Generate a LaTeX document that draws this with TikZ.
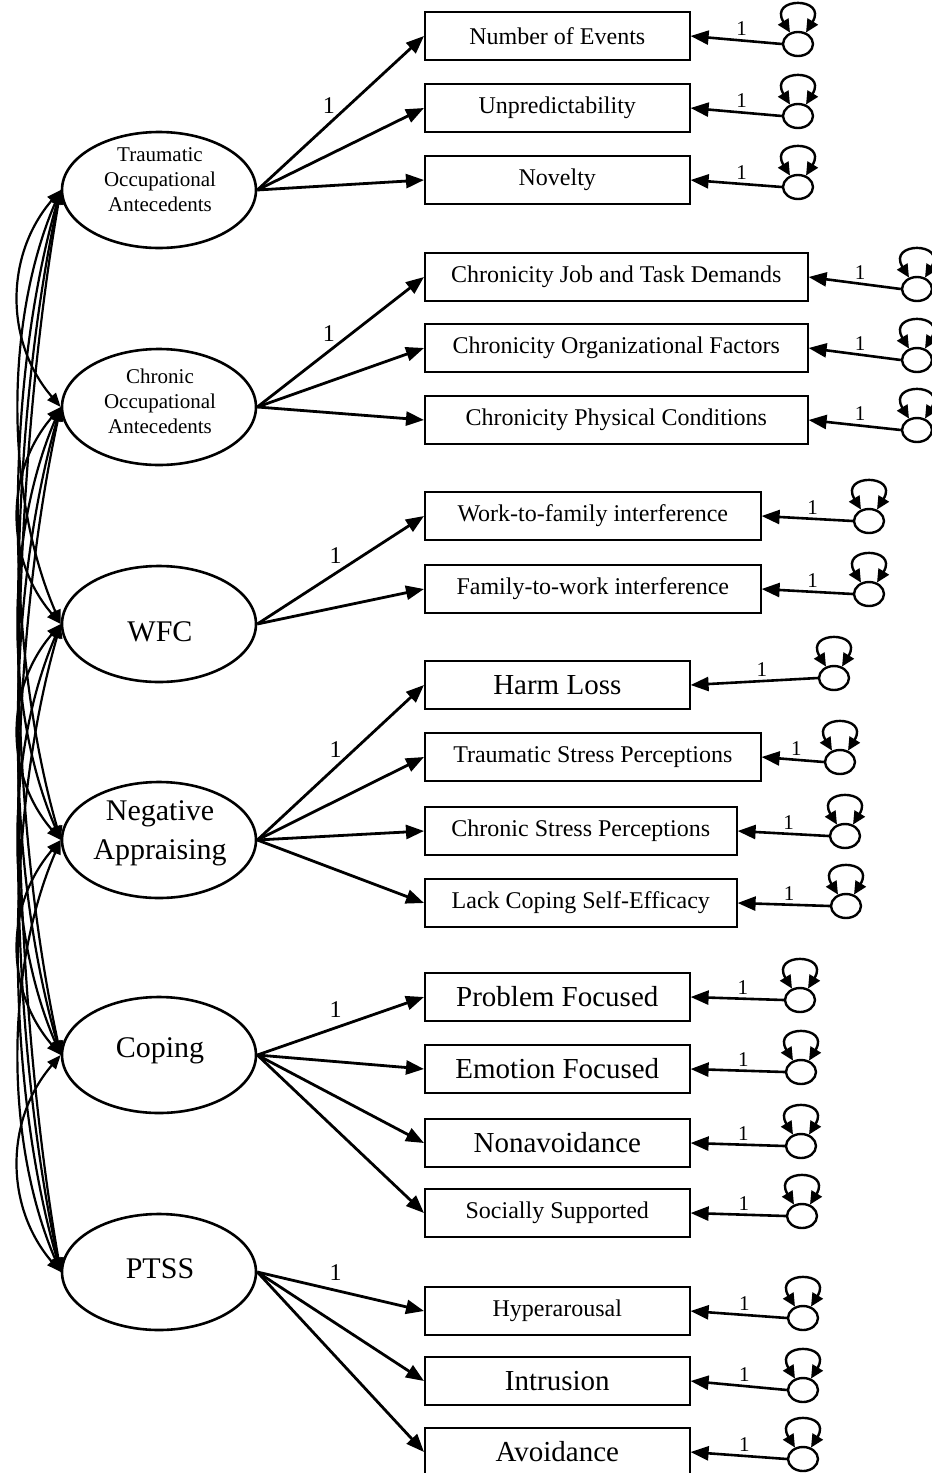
\documentclass[tikz,border=0pt]{standalone}
\usepackage{fontspec}
\setmainfont{Liberation Serif}
\usetikzlibrary{arrows.meta,shapes.geometric}
\begin{document}
\begin{tikzpicture}[x=1pt,y=-1pt,
  latent/.style={draw, line width=2.6pt, ellipse, minimum width=194pt, minimum height=116pt, inner sep=0pt},
  small/.style={align=center, font=\fontsize{21}{25}\selectfont},
  big/.style={align=center, font=\fontsize{30}{39}\selectfont},
  ind/.style={draw, line width=1.6pt, rectangle, anchor=west, minimum height=48pt, inner sep=0pt, font=\fontsize{24}{28}\selectfont},
  indbig/.style={ind, font=\fontsize{29}{34}\selectfont},
  err/.style={draw, line width=2.4pt, ellipse, minimum width=30pt, minimum height=24pt, inner sep=0pt},
  load/.style={line width=2.8pt, -{Triangle[length=18pt,width=14pt]}},
  eline/.style={line width=2.6pt, -{Triangle[length=18pt,width=14pt]}},
  selfloop/.style={line width=2.4pt, {Triangle[length=13pt,width=12pt]}-{Triangle[length=13pt,width=12pt]}},
  cov/.style={line width=2.2pt, {Triangle[length=14pt,width=11pt]}-{Triangle[length=14pt,width=11pt]}},
  one/.style={pos=0.47, yshift=18pt, font=\fontsize{24}{26}\selectfont},
  eone/.style={pos=0.44, above=0pt, font=\fontsize{21}{23}\selectfont}
]
\useasboundingbox (0,0) rectangle (932,1473);

% latent variables
\node[latent] (L1) at (159,190) {};
\node[latent] (L2) at (159,407) {};
\node[latent] (L3) at (159,624) {};
\node[latent] (L4) at (159,840) {};
\node[latent] (L5) at (159,1055) {};
\node[latent] (L6) at (159,1272) {};
\node[small] (t1) at (160,180) {Traumatic\\Occupational\\Antecedents};
\node[small] (t2) at (160,401) {Chronic\\Occupational\\Antecedents};
\node[big] (t3) at (160,632) {WFC};
\node[big] (t4) at (160,833) {Negative\\Appraising};
\node[big] (t5) at (160,1051) {Coping};
\node[big] (t6) at (160,1269) {PTSS};

% indicators
\node[ind, minimum width=265pt] (b11) at (424,36) {Number of Events};
\node[ind, minimum width=265pt] (b12) at (424,108) {Unpredictability};
\node[ind, minimum width=265pt] (b13) at (424,180) {Novelty};

\node[ind, minimum width=383pt] (b21) at (424,277) {Chronicity Job and Task Demands};
\node[ind, minimum width=383pt] (b22) at (424,348) {Chronicity Organizational Factors};
\node[ind, minimum width=383pt] (b23) at (424,420) {Chronicity Physical Conditions};

\node[ind, minimum width=336pt] (b31) at (424,516) {Work-to-family interference};
\node[ind, minimum width=336pt] (b32) at (424,589) {Family-to-work interference};

\node[indbig, minimum width=265pt] (b41) at (424,685) {Harm Loss};
\node[ind, minimum width=336pt] (b42) at (424,757) {Traumatic Stress Perceptions};
\node[ind, minimum width=312pt] (b43) at (424,831) {Chronic Stress Perceptions};
\node[ind, minimum width=312pt] (b44) at (424,903) {Lack Coping Self-Efficacy};

\node[indbig, minimum width=265pt] (b51) at (424,997) {Problem Focused};
\node[indbig, minimum width=265pt] (b52) at (424,1069) {Emotion Focused};
\node[indbig, minimum width=265pt] (b53) at (424,1143) {Nonavoidance};
\node[ind, minimum width=265pt] (b54) at (424,1213) {Socially Supported};

\node[ind, minimum width=265pt] (b61) at (424,1311) {Hyperarousal};
\node[indbig, minimum width=265pt] (b62) at (424,1381) {Intrusion};
\node[indbig, minimum width=265pt] (b63) at (424,1452) {Avoidance};

% error terms
\node[err] (e11) at (798,44) {};
\node[err] (e12) at (798,116) {};
\node[err] (e13) at (798,187) {};
\node[err] (e21) at (917,289) {};
\node[err] (e22) at (917,360) {};
\node[err] (e23) at (917,430) {};
\node[err] (e31) at (869,521) {};
\node[err] (e32) at (869,594) {};
\node[err] (e41) at (834,678) {};
\node[err] (e42) at (840,762) {};
\node[err] (e43) at (845,836) {};
\node[err] (e44) at (846,906) {};
\node[err] (e51) at (800,1000) {};
\node[err] (e52) at (801,1072) {};
\node[err] (e53) at (801,1146) {};
\node[err] (e54) at (802,1216) {};
\node[err] (e61) at (803,1318) {};
\node[err] (e62) at (803,1390) {};
\node[err] (e63) at (803,1459) {};

% factor loadings
\draw[load] (L1.east) -- node[one, pos=0.43]{1} (b11.west);
\draw[load] (L1.east) -- (b12.west);
\draw[load] (L1.east) -- (b13.west);
\draw[load] (L2.east) -- node[one, pos=0.43]{1} (b21.west);
\draw[load] (L2.east) -- (b22.west);
\draw[load] (L2.east) -- (b23.west);
\draw[load] (L3.east) -- node[one]{1} (b31.west);
\draw[load] (L3.east) -- (b32.west);
\draw[load] (L4.east) -- node[one]{1} (b41.west);
\draw[load] (L4.east) -- (b42.west);
\draw[load] (L4.east) -- (b43.west);
\draw[load] (L4.east) -- (b44.west);
\draw[load] (L5.east) -- node[one]{1} (b51.west);
\draw[load] (L5.east) -- (b52.west);
\draw[load] (L5.east) -- (b53.west);
\draw[load] (L5.east) -- (b54.west);
\draw[load] (L6.east) -- node[one]{1} (b61.west);
\draw[load] (L6.east) -- (b62.west);
\draw[load] (L6.east) -- (b63.west);

% error paths and variances
\foreach \e in {11,12,13,21,22,23,31,32,41,42,43,44,51,52,53,54,61,62,63}{
  \draw[eline] (e\e.west) -- node[eone]{1} (b\e.east);
  \draw[selfloop] (e\e.125) .. controls +(-22,-36) and +(22,-36) .. (e\e.55);
}

% covariances among latent variables
\foreach \a/\b/\t in {L1/L2/65,L2/L3/65,L3/L4/65,L4/L5/65,L5/L6/65,
                      L1/L3/130,L2/L4/130,L3/L5/130,L4/L6/130,
                      L1/L4/195,L2/L5/195,L3/L6/195,
                      L1/L5/260,L2/L6/260,
                      L1/L6/325}{
  \draw[cov] (\a.west) .. controls +(-56,\t) and +(-56,-\t) .. (\b.west);
}
\end{tikzpicture}
\end{document}
